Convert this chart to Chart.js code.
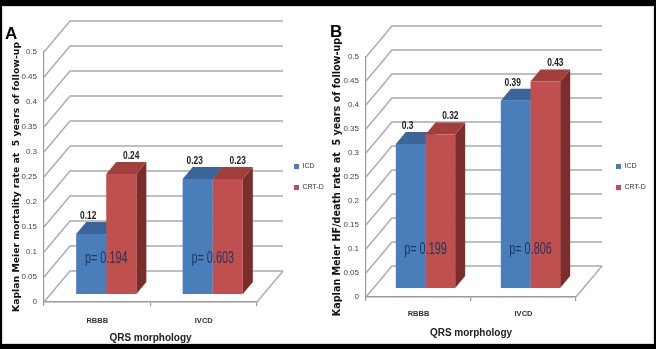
<!DOCTYPE html>
<html>
<head>
<meta charset="utf-8">
<script src="https://cdn.jsdelivr.net/npm/chart.js@4.4.1/dist/chart.umd.min.js"></script>
<style>
  html, body { margin: 0; padding: 0; background: #000; width: 656px; height: 349px; overflow: hidden; }
  #frame { position: absolute; left: 2px; top: 6px; width: 652px; height: 338px; background: #fff; border: 1px solid #ddd; box-sizing: border-box; }
  canvas { position: absolute; top: 0; }
  #chartA { left: 0; }
  #chartB { left: 326px; }
</style>
</head>
<body>
<div id="frame"></div>
<canvas id="chartA" width="350" height="349"></canvas>
<canvas id="chartB" width="350" height="349"></canvas>
<script>
const categories = ["RBBB", "IVCD"];
const seriesNames = ["ICD", "CRT-D"];
const mortalityICD = [0.12, 0.23];
const mortalityCRTD = [0.24, 0.23];
const hfDeathICD = [0.3, 0.39];
const hfDeathCRTD = [0.32, 0.43];
const mortalityP = ["p= 0.194", "p= 0.603"];
const hfDeathP = ["p= 0.199", "p= 0.806"];
const yTicks = [0, 0.05, 0.1, 0.15, 0.2, 0.25, 0.3, 0.35, 0.4, 0.45, 0.5];

const NARROW = "'Liberation Sans Narrow', 'Arial Narrow', 'Liberation Sans', sans-serif";
const SANS = "'Liberation Sans', Arial, sans-serif";
const WIDE = "'DejaVu Sans', Verdana, sans-serif";
const LEGEND_FONT = 7, LEGEND_BOX = 5, LEGEND_PAD = 14;

// width the legend box will take, so it can be parked at a fixed x
function legendWidth() {
  const c = document.createElement("canvas").getContext("2d");
  c.font = LEGEND_FONT + "px " + NARROW;
  const w = Math.max(...seriesNames.map((s) => c.measureText(s).width));
  return LEGEND_PAD + LEGEND_BOX + LEGEND_FONT / 2 + w + 10;
}

// 3D walls, bar top/side faces, and value / p labels
const box3d = {
  id: "box3d",
  beforeDatasetsDraw(chart, args, opts) {
    const { ctx, chartArea: a, scales: { y } } = chart;
    ctx.save();
    ctx.strokeStyle = "#ababab";
    ctx.lineWidth = 1.4;
    yTicks.forEach((v) => {
      const py = y.getPixelForValue(v);
      ctx.beginPath();
      ctx.moveTo(a.left, py);
      ctx.lineTo(a.left + opts.wallX, py - opts.wallY);
      ctx.lineTo(a.right + opts.wallX, py - opts.wallY);
      ctx.stroke();
    });
    ctx.beginPath();
    ctx.moveTo(a.right, a.bottom);
    ctx.lineTo(a.right + opts.wallX, a.bottom - opts.wallY);
    ctx.stroke();
    ctx.restore();

    // bars sit a little back on the floor
    ctx.save();
    ctx.translate(opts.shiftX, opts.shiftY);
    const dx = opts.barX, dy = opts.barY;
    chart.data.datasets.forEach((ds, i) => {
      chart.getDatasetMeta(i).data.forEach((bar) => {
        const l = bar.x - bar.width / 2;
        const r = bar.x + bar.width / 2;
        ctx.fillStyle = opts.sideColors[i];
        ctx.beginPath();
        ctx.moveTo(r, bar.y);
        ctx.lineTo(r + dx, bar.y - dy);
        ctx.lineTo(r + dx, bar.base - dy);
        ctx.lineTo(r, bar.base);
        ctx.closePath();
        ctx.fill();
        ctx.fillStyle = opts.topColors[i];
        ctx.beginPath();
        ctx.moveTo(l, bar.y);
        ctx.lineTo(r, bar.y);
        ctx.lineTo(r + dx, bar.y - dy);
        ctx.lineTo(l + dx, bar.y - dy);
        ctx.closePath();
        ctx.fill();
      });
    });
  },
  afterDatasetsDraw(chart, args, opts) {
    const { ctx, scales: { y } } = chart;
    ctx.restore();
    ctx.save();
    ctx.fillStyle = "#1a1a1a";
    ctx.font = "bold 10.5px " + SANS;
    ctx.textAlign = "center";
    ctx.textBaseline = "middle";
    chart.data.datasets.forEach((ds, i) => {
      chart.getDatasetMeta(i).data.forEach((bar, j) => {
        ctx.save();
        ctx.translate(bar.x + opts.shiftX + opts.labelDx[i], bar.y + opts.shiftY - 18);
        ctx.scale(0.8, 1);
        ctx.fillText(String(ds.data[j]), 0, 0);
        ctx.restore();
      });
    });
    const m0 = chart.getDatasetMeta(0).data;
    const m1 = chart.getDatasetMeta(1).data;
    ctx.fillStyle = "#1f3763";
    ctx.font = "16px " + SANS;
    opts.pLabels.forEach((txt, j) => {
      ctx.save();
      ctx.translate((m0[j].x + m1[j].x) / 2 + opts.shiftX, y.getPixelForValue(opts.pAt) + opts.shiftY);
      ctx.scale(0.68, 1);
      ctx.fillText(txt, 0, 0);
      ctx.restore();
    });
    ctx.restore();
  }
};

function makeChart(id, cfg) {
  const canvas = document.getElementById(id);
  const padRight = canvas.width - cfg.legendLeft - legendWidth();
  return new Chart(canvas, {
    type: "bar",
    data: {
      labels: categories,
      datasets: [
        { label: seriesNames[0], data: cfg.icd, backgroundColor: "#4a7ebb", borderWidth: 0 },
        { label: seriesNames[1], data: cfg.crtd, backgroundColor: "#c0504d", borderWidth: 0 }
      ]
    },
    options: {
      responsive: false,
      animation: false,
      events: [],
      layout: { padding: { left: cfg.padLeft, top: cfg.padTop, right: padRight, bottom: 3 } },
      datasets: { bar: { categoryPercentage: 0.565, barPercentage: 1 } },
      scales: {
        x: {
          afterFit: (s) => { s.height = cfg.xHeight; },
          grid: { display: true, drawOnChartArea: false, drawTicks: true, tickLength: 4, color: "#9a9a9a", lineWidth: 1.2 },
          border: { display: true, color: "#9a9a9a", width: 1.4 },
          ticks: { padding: cfg.xTickPad, color: "#333", font: { family: NARROW, size: 7.5, weight: "bold" } },
          title: { display: true, text: "QRS morphology", color: "#222", font: { family: NARROW, size: 10, weight: "bold" }, padding: { top: 0, bottom: cfg.xTitlePad } }
        },
        y: {
          min: 0,
          max: 0.5,
          afterBuildTicks: (s) => { s.ticks = yTicks.map((v) => ({ value: v })); },
          afterFit: (s) => { s.width = cfg.yWidth; },
          grid: { display: false, drawTicks: false },
          border: { display: true, color: "#9a9a9a", width: 1.2 },
          ticks: { padding: 7, color: "#444", font: { family: NARROW, size: 8 }, callback: (v) => String(v) },
          title: { display: true, text: cfg.yTitle, color: "#111", font: { family: WIDE, size: cfg.yTitleSize, weight: "bold" }, padding: { top: cfg.yTitlePad, bottom: 0 } }
        },
        depth: {
          type: "linear",
          position: "right",
          display: true,
          afterFit: (s) => { s.width = cfg.depthRight; },
          ticks: { display: false },
          grid: { display: false, drawTicks: false },
          border: { display: false }
        }
      },
      plugins: {
        title: { display: true, text: cfg.panel, align: "start", color: "#000", font: { family: SANS, size: 17, weight: "bold" }, padding: { top: 0, bottom: cfg.panelPad } },
        legend: {
          position: "right",
          align: "center",
          fullSize: false,
          labels: { boxWidth: LEGEND_BOX, boxHeight: LEGEND_BOX, padding: LEGEND_PAD, color: "#333", font: { family: NARROW, size: LEGEND_FONT } }
        },
        tooltip: { enabled: false },
        box3d: {
          wallX: 26, wallY: cfg.wallY,
          shiftX: cfg.shiftX, shiftY: cfg.shiftY,
          barX: 10, barY: 12,
          topColors: ["#3a659b", "#a03f3c"],
          sideColors: ["#2f5486", "#7b2d2b"],
          labelDx: [-3, 10],
          pLabels: cfg.pLabels, pAt: cfg.pAt
        }
      }
    },
    plugins: [box3d]
  });
}

makeChart("chartA", {
  panel: "A",
  icd: mortalityICD,
  crtd: mortalityCRTD,
  pLabels: mortalityP,
  yTitle: "Kaplan Meier mortality rate at  5 years of follow-up",
  yTitleSize: 9.3,
  padLeft: 5, padTop: 24,
  panelPad: 7.6,
  yWidth: 39, yTitlePad: 6,
  depthRight: 23, legendLeft: 280,
  xHeight: 44, xTickPad: 10.5, xTitlePad: 2,
  wallY: 31, shiftX: 9, shiftY: -8, pAt: 0.07
});

makeChart("chartB", {
  panel: "B",
  icd: hfDeathICD,
  crtd: hfDeathCRTD,
  pLabels: hfDeathP,
  yTitle: "Kaplan Meier HF/death rate at  5 years of follow-up",
  yTitleSize: 9.6,
  padLeft: 4, padTop: 22,
  panelPad: 14.6,
  yWidth: 36, yTitlePad: 2,
  depthRight: 26, legendLeft: 276,
  xHeight: 49, xTickPad: 8.5, xTitlePad: 7,
  wallY: 31, shiftX: 7, shiftY: -9, pAt: 0.08
});
</script>
</body>
</html>
